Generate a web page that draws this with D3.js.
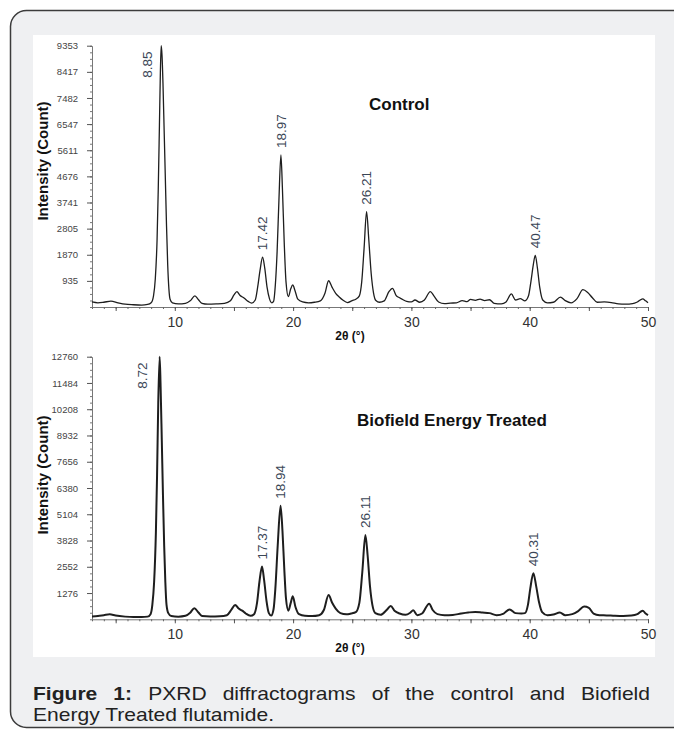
<!DOCTYPE html>
<html>
<head>
<meta charset="utf-8">
<script src="https://cdn.jsdelivr.net/npm/d3@7"></script>
<style>
  html, body { margin: 0; padding: 0; background: #fff; }
  svg { display: block; }
</style>
</head>
<body>
<div id="chart"></div>
<script>
// 2θ positions and intensities
var ctrlX = [3.0, 3.5, 4.0, 4.6, 5.2, 5.8, 6.5, 7.2, 7.7, 8.0, 8.2, 8.35, 8.5, 8.6, 8.7, 8.78, 8.85, 8.92, 9.0, 9.1,
  9.2, 9.3, 9.4, 9.5, 9.6, 9.8, 10.3, 10.9, 11.3, 11.7, 12.0, 12.3, 12.8, 13.5, 14.2, 14.7, 15.0, 15.25, 15.5, 15.85,
  16.2, 16.5, 16.8, 17.0, 17.2, 17.42, 17.6, 17.8, 18.0, 18.2, 18.35, 18.5, 18.65, 18.8, 18.97, 19.1, 19.25, 19.4, 19.6, 19.8,
  19.97, 20.15, 20.4, 20.8, 21.3, 21.8, 22.3, 22.7, 23.0, 23.3, 23.6, 23.9, 24.2, 24.6, 25.0, 25.3, 25.6, 25.8, 26.0, 26.21,
  26.4, 26.6, 26.8, 27.0, 27.3, 27.7, 28.1, 28.4, 28.7, 29.0, 29.3, 29.6, 30.0, 30.3, 30.7, 31.1, 31.6, 31.9, 32.3, 32.8,
  33.3, 33.8, 34.3, 34.7, 35.0, 35.4, 35.8, 36.2, 36.6, 37.0, 37.6, 38.0, 38.45, 38.8, 39.2, 39.6, 39.9, 40.1, 40.3, 40.47,
  40.65, 40.85, 41.1, 41.5, 42.0, 42.6, 43.0, 43.5, 44.0, 44.5, 44.9, 45.3, 45.7, 46.3, 46.9, 47.5, 48.1, 48.7, 49.1, 49.55,
  49.8, 50.0];
var ctrlY = [180, 150, 170, 210, 150, 100, 80, 70, 90, 150, 400, 1000, 2400, 4200, 6500, 8400, 9353, 9000, 8000, 6300,
  4600, 2900, 1500, 650, 280, 150, 110, 130, 220, 400, 260, 130, 100, 110, 130, 220, 430, 550, 420, 320,
  200, 140, 250, 700, 1300, 1780, 1400, 700, 300, 150, 200, 800, 2000, 3800, 5440, 4200, 2300, 900, 370, 650,
  790, 600, 280, 180, 150, 170, 220, 500, 940, 700, 490, 360, 250, 160, 230, 280, 400, 900, 2100, 3410,
  2400, 1200, 500, 230, 170, 220, 550, 670, 420, 330, 260, 200, 180, 250, 170, 250, 550, 400, 180, 120,
  140, 150, 230, 190, 270, 240, 280, 230, 260, 130, 110, 180, 470, 250, 300, 220, 400, 900, 1500, 1850,
  1400, 700, 250, 150, 170, 350, 230, 150, 300, 620, 520, 330, 170, 180, 160, 110, 100, 120, 180, 290,
  220, 150];

var treatX = [3.0, 3.5, 4.0, 4.5, 5.0, 5.8, 6.5, 7.2, 7.7, 7.95, 8.1, 8.25, 8.4, 8.5, 8.6, 8.72, 8.8, 8.9, 9.0, 9.1,
  9.2, 9.3, 9.45, 9.7, 10.3, 10.9, 11.3, 11.65, 12.0, 12.3, 13.0, 13.8, 14.4, 14.8, 15.1, 15.4, 15.7, 16.0, 16.4, 16.7,
  16.95, 17.15, 17.37, 17.55, 17.75, 17.95, 18.15, 18.35, 18.5, 18.7, 18.94, 19.1, 19.25, 19.4, 19.6, 19.8, 19.97, 20.2, 20.5, 21.0,
  21.6, 22.2, 22.6, 23.0, 23.3, 23.6, 24.0, 24.5, 24.9, 25.3, 25.6, 25.85, 26.11, 26.3, 26.5, 26.7, 26.95, 27.4, 27.9, 28.25,
  28.6, 29.0, 29.5, 29.9, 30.15, 30.5, 30.9, 31.5, 31.8, 32.2, 32.8, 33.5, 34.2, 34.8, 35.4, 36.0, 36.6, 37.2, 37.8, 38.3,
  38.8, 39.3, 39.6, 39.85, 40.05, 40.31, 40.55, 40.8, 41.05, 41.5, 42.0, 42.55, 43.0, 43.6, 44.1, 44.6, 45.0, 45.4, 45.9, 46.5,
  47.2, 47.9, 48.6, 49.1, 49.55, 49.8, 50.0];
var treatY = [140, 160, 200, 240, 180, 130, 110, 110, 130, 250, 700, 1800, 4200, 7000, 10500, 12760, 11300, 8700, 6000, 3600,
  1800, 700, 300, 160, 130, 170, 320, 540, 330, 160, 140, 150, 200, 480, 700, 520, 420, 280, 170, 250,
  800, 1800, 2560, 1900, 900, 300, 180, 500, 1500, 3600, 5520, 4300, 2500, 1000, 420, 800, 1120, 600, 250, 170,
  160, 200, 450, 1180, 800, 520, 300, 240, 280, 350, 800, 2300, 4100, 3100, 1600, 700, 300, 220, 450, 650,
  400, 280, 220, 320, 440, 200, 280, 760, 450, 250, 200, 210, 280, 330, 360, 330, 300, 200, 280, 480,
  300, 280, 300, 700, 1500, 2240, 1600, 800, 350, 200, 230, 330, 200, 250, 400, 620, 560, 280, 200, 190,
  170, 160, 180, 250, 420, 280, 200];

var ctrlTicks = [935, 1870, 2805, 3741, 4676, 5611, 6547, 7482, 8417, 9353];
var treatTicks = [1276, 2552, 3828, 5104, 6380, 7656, 8932, 10208, 11484, 12760];
var ctrlPeaks = [8.85, 17.42, 18.97, 26.21, 40.47];
var treatPeaks = [8.72, 17.37, 18.94, 26.11, 40.31];
var xLabelTicks = [10, 20, 30, 40, 50];

var width = 674, height = 731;
var font = "Arial, 'Liberation Sans', sans-serif";
var svg = d3.select("#chart").append("svg")
  .attr("width", width)
  .attr("height", height);

// card and white figure area
svg.append("rect")
  .attr("x", 10.5).attr("y", 10.5)
  .attr("width", 700).attr("height", 717)
  .attr("rx", 16)
  .attr("fill", "#eff0f2")
  .attr("stroke", "#3c3c3c")
  .attr("stroke-width", 1.5);
svg.append("rect")
  .attr("x", 33).attr("y", 35)
  .attr("width", 622).attr("height", 622)
  .attr("fill", "#fff");

var x = d3.scaleLinear().domain([3, 50]).range([92, 648]);

function drawPanel(o) {
  var g = svg.append("g");
  var y = d3.scaleLinear().domain([0, o.ticks[o.ticks.length - 1]]).range([o.bottom, o.top]);
  var step = o.ticks[0];

  // x axis: minor ticks every degree, longer ones every 5
  g.append("g")
    .attr("transform", "translate(0," + o.bottom + ")")
    .call(d3.axisBottom(x).tickValues(d3.range(3, 51)).tickSize(2).tickSizeOuter(0).tickFormat(""))
    .call(s => s.select(".domain").attr("stroke", "#777"))
    .call(s => s.selectAll(".tick line").attr("stroke", "#666"));
  g.append("g")
    .attr("transform", "translate(0," + o.bottom + ")")
    .call(d3.axisBottom(x).tickValues(d3.range(5, 51, 5)).tickSize(4).tickSizeOuter(0)
      .tickFormat(d => xLabelTicks.indexOf(d) >= 0 ? d : ""))
    .call(s => s.select(".domain").remove())
    .call(s => s.selectAll(".tick line").attr("stroke", "#555"))
    .call(s => s.selectAll(".tick text")
      .attr("y", 10)
      .attr("font-family", font)
      .attr("font-size", 14)
      .attr("fill", "#333"));

  // y axis
  g.append("g")
    .attr("transform", "translate(92,0)")
    .call(d3.axisLeft(y).tickValues(d3.range(0, o.ticks[o.ticks.length - 1] + 1, step / 4)).tickSize(2).tickSizeOuter(0).tickFormat(""))
    .call(s => s.select(".domain").attr("stroke", "#777"))
    .call(s => s.selectAll(".tick line").attr("stroke", "#777"));
  g.append("g")
    .attr("transform", "translate(92,0)")
    .call(d3.axisLeft(y).tickValues(o.ticks).tickSize(5).tickSizeOuter(0).tickFormat(d3.format("d")))
    .call(s => s.select(".domain").remove())
    .call(s => s.selectAll(".tick line").attr("stroke", "#555"))
    .call(s => s.selectAll(".tick text")
      .attr("x", -14)
      .attr("font-family", font)
      .attr("font-size", 9.5)
      .attr("fill", "#444"));

  // trace
  var line = d3.line()
    .x(d => x(d[0]))
    .y(d => y(d[1]))
    .curve(d3.curveMonotoneX);
  var pts = d3.zip(o.xs, o.ys);
  g.append("path")
    .datum(pts)
    .attr("d", line)
    .attr("fill", "none")
    .attr("stroke", "#1e1e1e")
    .attr("stroke-width", o.lineWidth)
    .attr("stroke-linejoin", "round");

  // peak labels
  g.selectAll(".peak")
    .data(o.peaks)
    .enter().append("text")
    .attr("class", "peak")
    .attr("transform", function (p) {
      var v = o.ys[o.xs.indexOf(p)];
      var py = y(v);
      if (py - o.top < 40) {
        // tallest peak: label sits beside it at the top
        return "translate(" + (x(p) - o.sideShift) + "," + (o.top + 32) + ") rotate(-90)";
      }
      return "translate(" + x(p) + "," + (py - 7) + ") rotate(-90)";
    })
    .attr("dy", "0.35em")
    .attr("font-family", font)
    .attr("font-size", 13.5)
    .attr("fill", "#3a4656")
    .text(p => p.toFixed(2));

  // series name
  g.append("text")
    .attr("x", o.nameX).attr("y", o.nameY)
    .attr("font-family", font)
    .attr("font-weight", "bold")
    .attr("font-size", 17)
    .attr("fill", "#111")
    .text(o.name);

  // axis titles
  g.append("text")
    .attr("transform", "translate(43," + o.titleY + ") rotate(-90)")
    .attr("dy", "0.35em")
    .attr("text-anchor", "middle")
    .attr("font-family", font)
    .attr("font-weight", "bold")
    .attr("font-size", 15)
    .attr("fill", "#111")
    .text("Intensity (Count)");
  g.append("text")
    .attr("x", 350).attr("y", o.bottom + 33)
    .attr("text-anchor", "middle")
    .attr("font-family", font)
    .attr("font-weight", "bold")
    .attr("font-size", 12)
    .attr("fill", "#111")
    .text("2θ (°)");
}

drawPanel({
  xs: ctrlX, ys: ctrlY, ticks: ctrlTicks, peaks: ctrlPeaks,
  top: 45.7, bottom: 307, lineWidth: 1.3, sideShift: 14,
  name: "Control", nameX: 369, nameY: 110, titleY: 161
});
drawPanel({
  xs: treatX, ys: treatY, ticks: treatTicks, peaks: treatPeaks,
  top: 356.7, bottom: 619.3, lineWidth: 2, sideShift: 17,
  name: "Biofield Energy Treated", nameX: 357, nameY: 426, titleY: 475
});

// caption: slightly wide type, first line justified to the panel width
var capLeft = 33, capRight = 650, capSize = 18, capStretch = 1.17;
var cap = svg.append("g")
  .attr("transform", "translate(" + capLeft + ",0) scale(" + capStretch + ",1)");
var line1 = [["Figure", true], ["1:", true], ["PXRD", false], ["diffractograms", false], ["of", false],
  ["the", false], ["control", false], ["and", false], ["Biofield", false]];
var words = cap.selectAll("text.w")
  .data(line1)
  .enter().append("text")
  .attr("class", "w")
  .attr("y", 700)
  .attr("font-family", font)
  .attr("font-size", capSize)
  .attr("font-weight", d => d[1] ? "bold" : "normal")
  .attr("fill", "#222")
  .text(d => d[0]);
var widths = [];
words.each(function () { widths.push(this.getComputedTextLength()); });
var span = (capRight - capLeft) / capStretch;
var gap = (span - d3.sum(widths)) / (widths.length - 1);
var cx = 0;
words.attr("x", function (d, i) { var v = cx; cx += widths[i] + gap; return v; });

cap.append("text")
  .attr("x", 0).attr("y", 721)
  .attr("font-family", font)
  .attr("font-size", capSize)
  .attr("fill", "#222")
  .text("Energy Treated flutamide.");
</script>
</body>
</html>
